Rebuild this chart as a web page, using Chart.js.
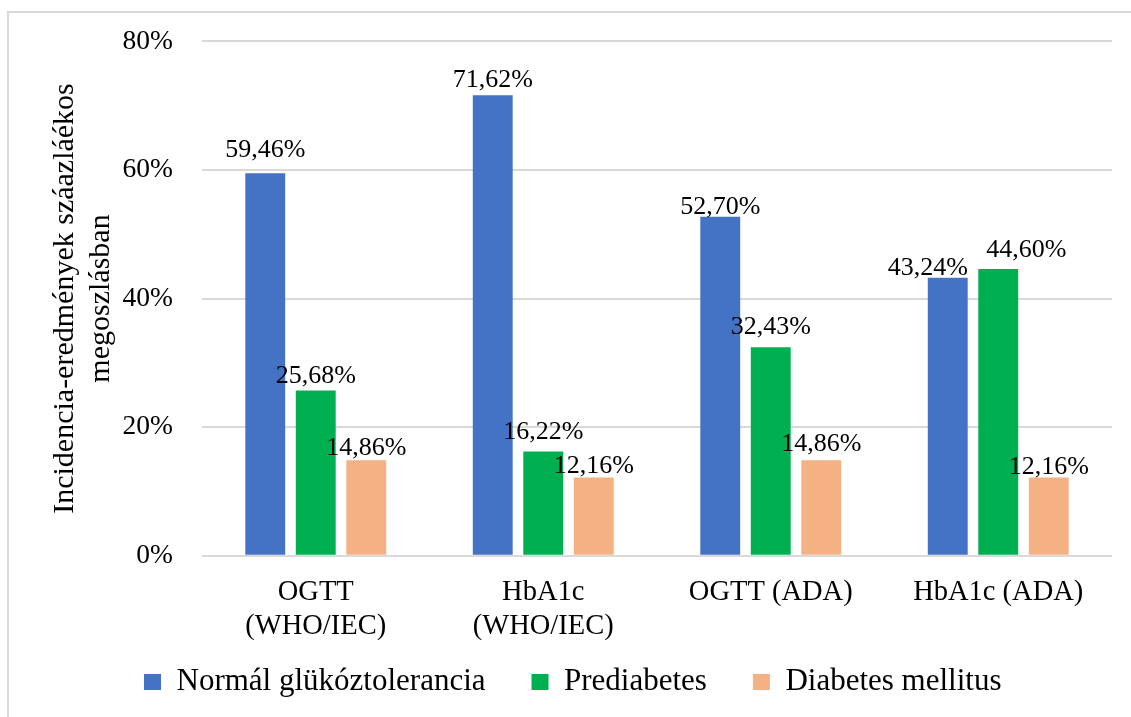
<!DOCTYPE html>
<html lang="hu">
<head>
<meta charset="utf-8">
<title>Incidencia-eredmények</title>
<script src="https://cdn.jsdelivr.net/npm/chart.js@4/dist/chart.umd.min.js"></script>
<style>
  html, body { margin: 0; padding: 0; background: #ffffff; }
  #wrap { position: relative; width: 1131px; height: 717px; }
  canvas { display: block; }
</style>
</head>
<body>
<div id="wrap"><canvas id="chart" width="1131" height="717"></canvas></div>
<script>
// Diagnostic categories (multi-line labels are arrays)
const categories = [
  ['OGTT', '(WHO/IEC)'],
  ['HbA1c', '(WHO/IEC)'],
  'OGTT (ADA)',
  'HbA1c (ADA)'
];

// Share of each outcome per diagnostic method, in percent
const normalValues = [59.46, 71.62, 52.70, 43.24];
const prediabetesValues = [25.68, 16.22, 32.43, 44.60];
const diabetesValues = [14.86, 12.16, 14.86, 12.16];

const seriesNames = ['Normál glükóztolerancia', 'Prediabetes', 'Diabetes mellitus'];
const yTicks = [0, 20, 40, 60, 80];

const SERIF = '"Liberation Serif", "Times New Roman", serif';

// Frame lines along the top and left edge of the chart
const framePlugin = {
  id: 'frame',
  beforeDraw(chart) {
    const ctx = chart.ctx;
    ctx.save();
    ctx.strokeStyle = '#d9d9d9';
    ctx.lineWidth = 2;
    ctx.beginPath();
    ctx.moveTo(8, chart.height);
    ctx.lineTo(8, 12);
    ctx.lineTo(chart.width, 12);
    ctx.stroke();
    ctx.restore();
  }
};

// Keeps the legend compact so the two-line category labels have room,
// then places the legend row just under the category labels.
const legendPlacement = {
  id: 'legendPlacement',
  beforeLayout(chart, args, opts) {
    const lg = chart.legend;
    if (lg && !lg._compactFit) {
      const fit = lg.fit.bind(lg);
      lg.fit = function () { fit(); this.height = opts.height; };
      lg._compactFit = true;
    }
  },
  afterLayout(chart, args, opts) {
    const lg = chart.legend;
    if (lg) {
      lg.top = opts.top;
      lg.bottom = chart.height;
      lg.height = chart.height - opts.top;
    }
  }
};

// Value labels above every bar, using a decimal comma
const valueLabelPlugin = {
  id: 'valueLabels',
  afterDatasetsDraw(chart, args, opts) {
    const ctx = chart.ctx;
    ctx.save();
    ctx.font = opts.size + 'px ' + SERIF;
    ctx.fillStyle = '#000000';
    ctx.textAlign = 'center';
    ctx.textBaseline = 'alphabetic';
    chart.data.datasets.forEach((ds, di) => {
      const meta = chart.getDatasetMeta(di);
      meta.data.forEach((bar, i) => {
        const text = ds.data[i].toFixed(2).replace('.', ',') + '%';
        const dx = opts.nudgeX[di][i];
        const dy = opts.nudgeY[di][i];
        ctx.fillText(text, bar.x + dx, bar.y - opts.gap + dy);
      });
    });
    ctx.restore();
  }
};

new Chart(document.getElementById('chart'), {
  type: 'bar',
  data: {
    labels: categories,
    datasets: [
      { label: seriesNames[0], data: normalValues, backgroundColor: '#4472C4' },
      { label: seriesNames[1], data: prediabetesValues, backgroundColor: '#00B050' },
      { label: seriesNames[2], data: diabetesValues, backgroundColor: '#F4B183' }
    ]
  },
  options: {
    responsive: false,
    animation: false,
    devicePixelRatio: 1,
    layout: { padding: { left: 33.5, right: 19, top: 41.3, bottom: 0 } },
    datasets: {
      bar: { categoryPercentage: 0.666, barPercentage: 0.79 }
    },
    plugins: {
      legend: {
        position: 'bottom',
        align: 'center',
        labels: {
          boxWidth: 17,
          boxHeight: 16,
          padding: 46,
          color: '#000000',
          font: { family: SERIF, size: 31 }
        }
      },
      legendPlacement: { height: 66.3, top: 620.5 },
      valueLabels: {
        size: 26,
        gap: 7,
        // small hand placements of individual labels (pixels)
        nudgeX: [[0, 0, 0, -20], [0, 0, 0, 28], [0, 0, 0, 0]],
        nudgeY: [[-9, -1, 4, 4], [-1, -5, -6, -5], [2, 2, -2, 3]]
      },
      tooltip: { enabled: false },
      title: { display: false }
    },
    scales: {
      x: {
        grid: { display: false },
        border: { display: false },
        ticks: {
          color: '#000000',
          font: { family: SERIF, size: 28.5, lineHeight: 1.2 },
          padding: 12,
          maxRotation: 0,
          minRotation: 0,
          autoSkip: false
        },
        afterFit(scale) {
          scale.height = 95;
          scale.paddingLeft = 0;
          scale.paddingRight = 0;
          scale.paddingTop = 0;
          scale.paddingBottom = 0;
        }
      },
      y: {
        min: 0,
        max: 80,
        border: { display: false },
        grid: { color: '#d9d9d9', lineWidth: 2, drawTicks: false },
        afterBuildTicks(scale) {
          scale.ticks = yTicks.map(v => ({ value: v }));
        },
        ticks: {
          color: '#000000',
          font: { family: SERIF, size: 27.5 },
          padding: 29,
          callback: v => v + '%'
        },
        title: {
          display: true,
          text: ['Incidencia-eredmények száazláékos', 'megoszlásban'],
          color: '#000000',
          font: { family: SERIF, size: 30, lineHeight: 1.2 },
          padding: { top: 13.5, bottom: 0 }
        },
        afterFit(scale) {
          scale.width = 168.5;
          scale.paddingTop = 0;
          scale.paddingBottom = 0;
          scale.paddingLeft = 0;
          scale.paddingRight = 0;
        }
      }
    }
  },
  plugins: [framePlugin, legendPlacement, valueLabelPlugin]
});
</script>
</body>
</html>
